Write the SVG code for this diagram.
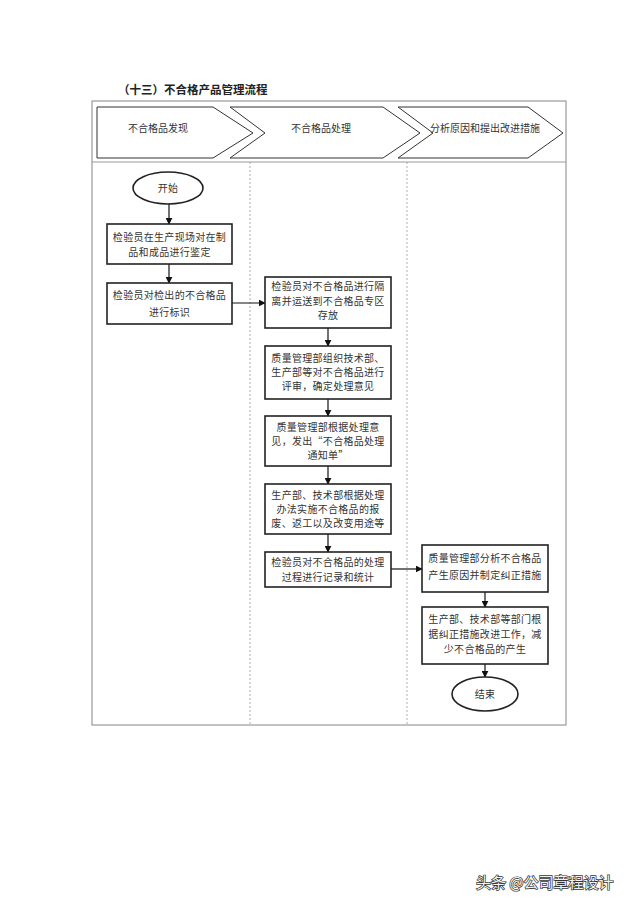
<svg xmlns="http://www.w3.org/2000/svg" width="640" height="905" viewBox="0 0 640 905">
<style>
text{font-family:"Noto Sans CJK SC","Liberation Sans",sans-serif;}
.t{font-size:10px;fill:#333;text-anchor:middle;letter-spacing:0.3px;}
.h{font-size:10px;fill:#333;text-anchor:middle;}
.box{fill:#fff;stroke:#222;stroke-width:1.6;}
.chev{fill:#fff;stroke:#333;stroke-width:1;}
.frame{fill:none;stroke:#999;stroke-width:1.2;}
.lane{stroke:#999;stroke-width:0.8;stroke-dasharray:2,2;}
.c{stroke:#111;stroke-width:1.2;fill:none;marker-end:url(#ah);}
</style>
<defs>
<marker id="ah" viewBox="0 0 10 10" refX="9" refY="5" markerWidth="7" markerHeight="7" markerUnits="userSpaceOnUse" orient="auto">
<path d="M0,0 L10,5 L0,10 Z" fill="#111"/>
</marker>
</defs>
<rect width="640" height="905" fill="#fff"/>
<text x="118" y="94" style="font-size:11.5px;font-weight:bold;fill:#222;">（十三）不合格产品管理流程</text>
<g id="frame">
<rect class="frame" x="92" y="101" width="474" height="624"/>
<line class="frame" x1="92" y1="162" x2="566" y2="162"/>
<line class="lane" x1="250" y1="162" x2="250" y2="725"/>
<line class="lane" x1="407" y1="162" x2="407" y2="725"/>
</g>
<g id="lane1-header">
<path class="chev" d="M97,107 L213,107 L253,133 L213,158 L97,158 Z"/>
<text class="h" x="158" y="132">不合格品发现</text>
</g>
<g id="lane2-header">
<path class="chev" d="M230,107 L383,107 L420,133 L383,158 L230,158 L265,133 Z"/>
<text class="h" x="321" y="132">不合格品处理</text>
</g>
<g id="lane3-header">
<path class="chev" d="M398,107 L528,107 L563,133 L528,158 L398,158 L433,133 Z"/>
<text class="h" x="485" y="132">分析原因和提出改进措施</text>
</g>
<g id="connectors">
<line class="c" x1="169" y1="204" x2="169" y2="224"/>
<line class="c" x1="169" y1="264" x2="169" y2="283"/>
<line class="c" x1="232" y1="303" x2="265" y2="303"/>
<line class="c" x1="328" y1="328" x2="328" y2="346"/>
<line class="c" x1="328" y1="399" x2="328" y2="416"/>
<line class="c" x1="328" y1="466" x2="328" y2="484"/>
<line class="c" x1="328" y1="534" x2="328" y2="552"/>
<line class="c" x1="391" y1="569" x2="422" y2="569"/>
<line class="c" x1="485" y1="592" x2="485" y2="607"/>
<line class="c" x1="485" y1="664" x2="485" y2="677"/>
</g>
<g id="start">
<ellipse class="box" cx="168" cy="188" rx="35" ry="16"/>
<text class="t" x="168" y="192">开始</text>
</g>
<g id="n1">
<rect class="box" x="107" y="224" width="125" height="40"/>
<text class="t" x="169.5" y="241">检验员在生产现场对在制</text>
<text class="t" x="169.5" y="256">品和成品进行鉴定</text>
</g>
<g id="n2">
<rect class="box" x="107" y="283" width="125" height="41"/>
<text class="t" x="169.5" y="299">检验员对检出的不合格品</text>
<text class="t" x="169.5" y="316">进行标识</text>
</g>
<g id="n3">
<rect class="box" x="265" y="277" width="126" height="51"/>
<text class="t" x="328" y="290">检验员对不合格品进行隔</text>
<text class="t" x="328" y="304.5">离并运送到不合格品专区</text>
<text class="t" x="328" y="319">存放</text>
</g>
<g id="n4">
<rect class="box" x="265" y="346" width="126" height="53"/>
<text class="t" x="328" y="362">质量管理部组织技术部、</text>
<text class="t" x="328" y="376">生产部等对不合格品进行</text>
<text class="t" x="328" y="390">评审，确定处理意见</text>
</g>
<g id="n5">
<rect class="box" x="265" y="416" width="126" height="50"/>
<text class="t" x="328" y="431">质量管理部根据处理意</text>
<text class="t" x="328" y="445">见，发出“不合格品处理</text>
<text class="t" x="328" y="459">通知单”</text>
</g>
<g id="n6">
<rect class="box" x="265" y="484" width="126" height="50"/>
<text class="t" x="328" y="499">生产部、技术部根据处理</text>
<text class="t" x="328" y="513">办法实施不合格品的报</text>
<text class="t" x="328" y="527">废、返工以及改变用途等</text>
</g>
<g id="n7">
<rect class="box" x="265" y="552" width="126" height="35"/>
<text class="t" x="328" y="566">检验员对不合格品的处理</text>
<text class="t" x="328" y="581">过程进行记录和统计</text>
</g>
<g id="n8">
<rect class="box" x="422" y="545" width="126" height="47"/>
<text class="t" x="485" y="562">质量管理部分析不合格品</text>
<text class="t" x="485" y="579">产生原因并制定纠正措施</text>
</g>
<g id="n9">
<rect class="box" x="422" y="607" width="126" height="57"/>
<text class="t" x="485" y="623">生产部、技术部等部门根</text>
<text class="t" x="485" y="638">据纠正措施改进工作，减</text>
<text class="t" x="485" y="653">少不合格品的产生</text>
</g>
<g id="end">
<ellipse class="box" cx="485" cy="694" rx="33" ry="17"/>
<text class="t" x="485" y="698">结束</text>
</g>
<text x="476" y="888" style="font-size:15px;fill:#f2f2f2;stroke:#333;stroke-width:1.4px;paint-order:stroke;">头条 @公司章程设计</text>
</svg>
